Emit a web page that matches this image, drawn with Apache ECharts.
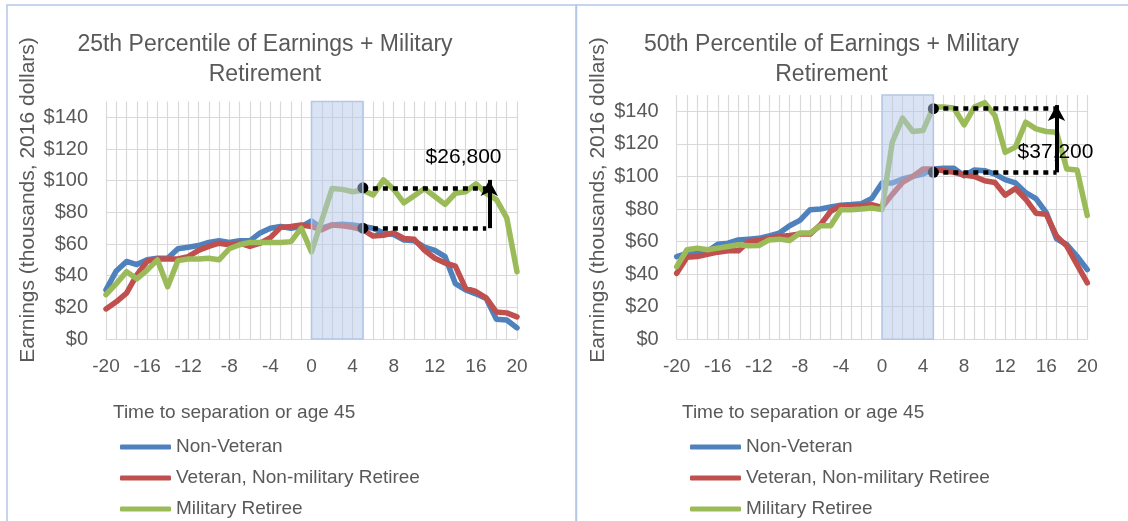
<!DOCTYPE html>
<html>
<head>
<meta charset="utf-8">
<script src="https://cdn.jsdelivr.net/npm/echarts@6.0.0/dist/echarts.min.js"></script>
<style>
    html, body { margin: 0; padding: 0; background: #fff; }
    #main { width: 1128px; height: 521px; }
</style>
</head>
<body>
<div id="main"></div>
<script>
    // time to separation or age 45
    var offsets = [-20, -19, -18, -17, -16, -15, -14, -13, -12, -11, -10, -9, -8, -7, -6, -5, -4, -3, -2, -1,
        0, 1, 2, 3, 4, 5, 6, 7, 8, 9, 10, 11, 12, 13, 14, 15, 16, 17, 18, 19, 20];
    var seriesNames = ['Non-Veteran', 'Veteran, Non-military Retiree', 'Military Retiree'];
    var chartTitles = [['25th Percentile of Earnings + Military', 'Retirement'],
        ['50th Percentile of Earnings + Military', 'Retirement']];

    // 25th percentile (thousands, 2016 dollars)
    var nonVet25 = [31, 43, 49, 47, 50, 51, 51, 57, 58, 59, 61, 62, 61, 62, 62, 67, 70, 71, 70, 71,
        74.5, 70, 72, 72.5, 72, 71, 70, 67, 66, 62.5, 62, 58, 56, 52, 35, 31, 28.5, 25.5, 12.5, 12, 7];
    var vet25 = [19, 23.5, 29, 40.5, 49, 50.5, 50.5, 50.5, 52, 56, 58.5, 60.5, 59.5, 60.5, 58.5, 60.5, 64, 70.5, 71, 72,
        71, 69, 72, 71.5, 70.5, 69, 65, 65.5, 67, 63.5, 63, 56, 51, 48, 46, 32, 30, 26, 17, 16.5, 14];
    var mil25 = [28, 35, 42.5, 38, 43.5, 50, 33, 49.5, 50.5, 50.5, 51, 50, 57, 59.5, 61, 61, 61, 61, 61.5, 70,
        55, 75, 95, 94.5, 93, 94, 91, 100.5, 94.5, 86, 90.5, 95, 90, 85, 92, 93, 98, 92, 88, 76.5, 42.5];

    // 50th percentile (thousands, 2016 dollars)
    var nonVet50 = [50.8, 52.8, 53.5, 54, 58.4, 59, 61, 61.5, 62, 63.5, 65.2, 69.7, 73, 79.6, 80, 81.2, 82.3, 82.7, 83.3, 86.5,
        96, 96, 98.4, 100, 101.4, 104.5, 105, 105, 100.4, 104, 103.5, 101.4, 98, 96, 90, 86.4, 77.8, 61.7, 58.2, 51, 42.8];
    var vet50 = [40.5, 50.4, 50.8, 52.2, 53.5, 54.3, 54.3, 60, 60.7, 62, 63.1, 63.7, 64.6, 64.6, 70.3, 78.6, 82, 82, 82, 82.7,
        81, 89, 96.3, 100, 104.5, 104.5, 103.5, 102.5, 100.8, 100, 97.3, 96.3, 88.5, 92.6, 86, 77.4, 76.7, 63.4, 57.2, 45.9, 34.6];
    var mil50 = [44.6, 55, 56, 55, 56, 57, 58, 57.4, 57.6, 61, 61.5, 60.7, 65.2, 65.2, 69.7, 69.7, 79.6, 79.6, 80, 80.6,
        79.6, 121, 135.8, 127.6, 128.2, 142.6, 142.6, 142, 131.7, 142.6, 145.3, 137.4, 114.8, 118, 133.3, 129.2, 127.6, 127.2, 104.5, 104, 76];

    // shaded window and gap annotations
    var windowRange = [0, 5];
    var gapLabels = ['$26,800', '$37,200'];
    var gapUpper = [95.5, 141.6];
    var gapLower = [70, 102.5];
    var gapEnd = [17, 17];
    var arrowX = [17.3, 17];
    var arrowTip = [100.5, 143.8];
    var labelPos = [[14.8, 114.6], [16.9, 114.8]];

    var chartData = [[nonVet25, vet25, mil25], [nonVet50, vet50, mil50]];
    var colors = ['#4f81bd', '#c0504d', '#9bbb59'];
    var font = 'Liberation Sans, Arial, sans-serif';
    var grey = '#595959';
    var grids = [
        { left: 106, top: 101.5, width: 411, height: 237.5 },
        { left: 676.7, top: 95, width: 410.6, height: 244.3 }
    ];
    var panelX = [7, 576.5];
    var titleX = [265, 831.5];
    var yNameX = [28, 598];
    var xNameX = [113, 682];
    var legendX = [120, 690];

    function pairs(values) {
        return offsets.map(function (x, i) { return [x, values[i]]; });
    }

    var xAxes = [], yAxes = [], series = [], legends = [], graphics = [];

    grids.forEach(function (g, k) {
        xAxes.push({
            type: 'value', gridIndex: k, min: -20, max: 20, interval: 4,
            axisLine: { show: true, lineStyle: { color: '#d9d9d9', width: 1.2 } },
            axisTick: { show: false },
            minorTick: { show: false, splitNumber: 4 },
            minorSplitLine: { show: true, lineStyle: { color: '#d9d9d9', width: 1.2 } },
            splitLine: { show: true, lineStyle: { color: '#d9d9d9', width: 1.2 } },
            axisLabel: { color: grey, fontSize: 19, fontFamily: font, margin: 18 }
        });
        yAxes.push({
            type: 'value', gridIndex: k, min: 0, max: 150, interval: 20,
            axisLine: { show: false },
            axisTick: { show: false },
            splitLine: { show: true, showMaxLine: false, lineStyle: { color: '#d9d9d9', width: 1.2 } },
            axisLabel: {
                color: grey, fontSize: 20, fontFamily: font, margin: 18, showMaxLabel: false,
                formatter: function (v) { return '$' + v; }
            }
        });

        chartData[k].forEach(function (values, i) {
            series.push({
                name: seriesNames[i], type: 'line', xAxisIndex: k, yAxisIndex: k,
                data: pairs(values), symbol: 'none', z: 2,
                color: colors[i],
                lineStyle: { width: 5.5, color: colors[i], cap: 'round', join: 'round' },
                emphasis: { disabled: true }
            });
        });

        // dotted reference lines starting at the end of the window
        series.push({
            name: 'gap-lines-' + k, type: 'line', xAxisIndex: k, yAxisIndex: k, data: [],
            markLine: {
                z: 2.5, silent: true, animation: false,
                label: { show: false },
                lineStyle: { color: '#000', width: 4.5, type: [5, 5], cap: 'butt' },
                data: [
                    [{ coord: [windowRange[1], gapUpper[k]], symbol: 'circle', symbolSize: 11 },
                     { coord: [gapEnd[k], gapUpper[k]], symbol: 'none' }],
                    [{ coord: [windowRange[1], gapLower[k]], symbol: 'circle', symbolSize: 11 },
                     { coord: [gapEnd[k], gapLower[k]], symbol: 'none' }]
                ]
            }
        });

        // shaded separation window, drawn over the lines
        series.push({
            name: 'window-' + k, type: 'line', xAxisIndex: k, yAxisIndex: k, data: [],
            markArea: {
                z: 3, silent: true, animation: false,
                itemStyle: { color: 'rgba(180,199,231,0.5)', borderColor: '#b4c7e7', borderWidth: 1.5 },
                data: [[{ coord: [windowRange[0], 0] }, { coord: [windowRange[1], 150] }]]
            }
        });

        series.push({
            name: 'gap-label-' + k, type: 'line', xAxisIndex: k, yAxisIndex: k, data: [],
            markPoint: {
                z: 4, silent: true, animation: false,
                symbol: 'rect', symbolSize: 1,
                itemStyle: { color: 'rgba(0,0,0,0)' },
                label: { show: true, position: 'inside', color: '#000', fontSize: 21, fontFamily: font, formatter: gapLabels[k] },
                data: [{ coord: labelPos[k] }]
            }
        });

        series.push({
            name: 'gap-arrow-' + k, type: 'line', xAxisIndex: k, yAxisIndex: k, data: [],
            markLine: {
                z: 5, silent: true, animation: false,
                label: { show: false },
                lineStyle: { color: '#000', width: 4, type: 'solid' },
                data: [
                    [{ coord: [arrowX[k], gapLower[k]], symbol: 'none' },
                     { coord: [arrowX[k], arrowTip[k]], symbol: 'arrow', symbolSize: [13, 16] }]
                ]
            }
        });

        legends.push({
            data: seriesNames, orient: 'vertical', left: legendX[k], top: 437, padding: 0,
            icon: 'roundRect', itemWidth: 51, itemHeight: 5, itemGap: 11,
            selectedMode: false,
            textStyle: { color: grey, fontSize: 19, fontFamily: font, lineHeight: 20 }
        });

        graphics.push({
            type: 'rect', silent: true,
            shape: { x: panelX[k], y: 5, width: 569, height: 540 },
            style: { fill: 'none', stroke: '#b4c7e7', lineWidth: 1.5 }
        });
        chartTitles[k].forEach(function (line, j) {
            graphics.push({
                type: 'text', silent: true, x: titleX[k], y: 44.5 + j * 30.5,
                style: { text: line, fill: grey, font: '23px ' + font, textAlign: 'center', textVerticalAlign: 'middle' }
            });
        });
        graphics.push({
            type: 'text', silent: true, x: yNameX[k], y: 200, rotation: Math.PI / 2,
            style: { text: 'Earnings (thousands, 2016 dollars)', fill: grey, font: '21px ' + font, textAlign: 'center', textVerticalAlign: 'middle' }
        });
        graphics.push({
            type: 'text', silent: true, x: xNameX[k], y: 413,
            style: { text: 'Time to separation or age 45', fill: grey, font: '19px ' + font, textAlign: 'left', textVerticalAlign: 'middle' }
        });
    });

    var chart = echarts.init(document.getElementById('main'));
    chart.setOption({
        animation: false,
        backgroundColor: '#fff',
        grid: grids,
        xAxis: xAxes,
        yAxis: yAxes,
        legend: legends,
        graphic: graphics,
        series: series
    });
</script>
</body>
</html>
